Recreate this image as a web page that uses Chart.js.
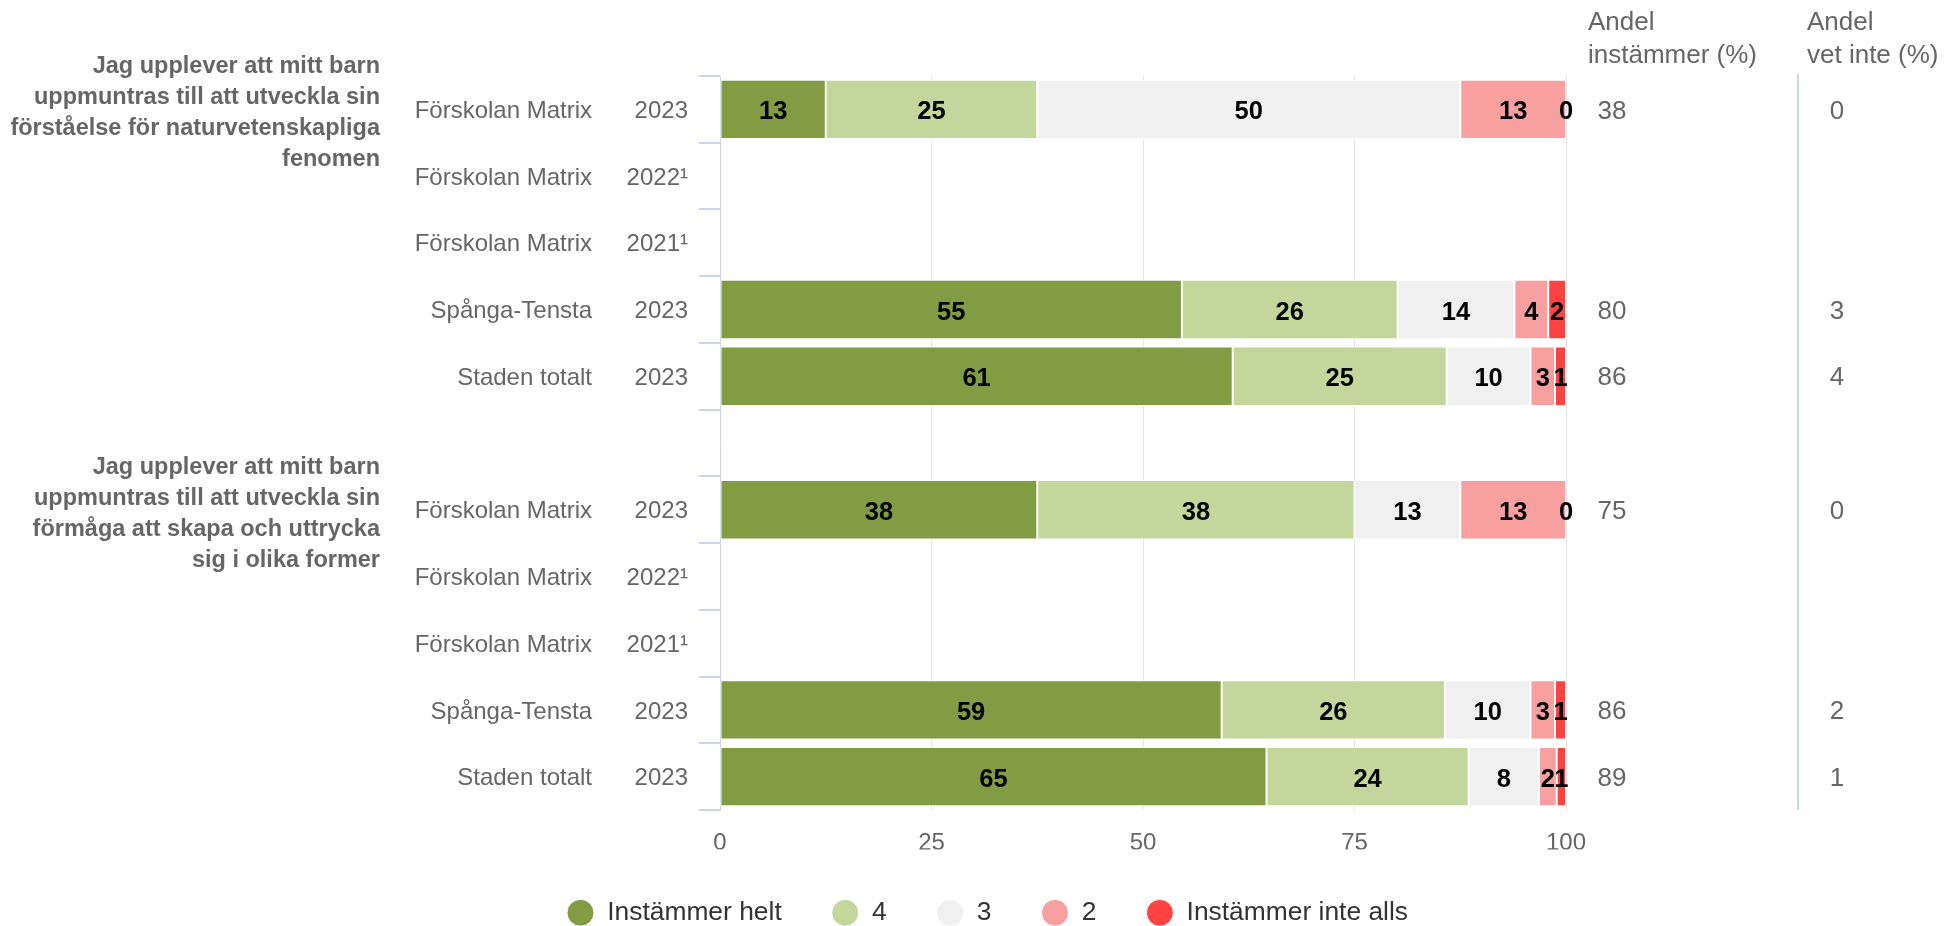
<!DOCTYPE html>
<html>
<head>
<meta charset="utf-8">
<script src="https://cdn.jsdelivr.net/npm/chart.js@4.4.1/dist/chart.umd.min.js"></script>
<style>
  html, body { margin: 0; padding: 0; background: #ffffff; }
  canvas { display: block; }
</style>
</head>
<body>
<canvas id="c" width="1944" height="926"></canvas>
<script>
// ---- Data ----
const names = ['Förskolan Matrix', 'Förskolan Matrix', 'Förskolan Matrix', 'Spånga-Tensta', 'Staden totalt', '',
               'Förskolan Matrix', 'Förskolan Matrix', 'Förskolan Matrix', 'Spånga-Tensta', 'Staden totalt'];
const years = ['2023', '2022¹', '2021¹', '2023', '2023', '',
               '2023', '2022¹', '2021¹', '2023', '2023'];

const groupTitles = [
  ['Jag upplever att mitt barn', 'uppmuntras till att utveckla sin', 'förståelse för naturvetenskapliga', 'fenomen'],
  ['Jag upplever att mitt barn', 'uppmuntras till att utveckla sin', 'förmåga att skapa och uttrycka', 'sig i olika former']
];
const groupFirstRow = [0, 6];

const seriesNames = ['Instämmer helt', '4', '3', '2', 'Instämmer inte alls'];
const seriesColors = ['#819c43', '#c3d69b', '#f0f0f0', '#f8a0a0', '#ff4343'];

const instammerHelt = [12.5, null, null, 54.6, 60.6, null, 37.5, null, null, 59.3, 64.6];
const varde4        = [25,   null, null, 25.5, 25.3, null, 37.5, null, null, 26.4, 23.9];
const varde3        = [50,   null, null, 13.8,  9.9, null, 12.5, null, null, 10.1,  8.3];
const varde2        = [12.5, null, null,  4.0,  2.9, null, 12.5, null, null,  2.9,  2.1];
const instammerInte = [0,    null, null,  2.1,  1.3, null, 0,    null, null,  1.3,  1.1];

const andelInstammer = [38, null, null, 80, 86, null, 75, null, null, 86, 89];
const andelVetInte   = [0,  null, null, 3,  4,  null, 0,  null, null, 2,  1];

const xTicks = [0, 25, 50, 75, 100];
const headerInstammer = ['Andel', 'instämmer (%)'];
const headerVetInte = ['Andel', 'vet inte (%)'];

// ---- Chart ----
const FONT = "'Liberation Sans', Arial, Helvetica, sans-serif";
Chart.defaults.font.family = FONT;

const seriesData = [instammerHelt, varde4, varde3, varde2, instammerInte];
const datasets = seriesData.map((d, i) => ({
  label: seriesNames[i],
  data: d,
  backgroundColor: seriesColors[i],
  borderColor: '#ffffff',
  borderWidth: 1,
  borderSkipped: false,
  barPercentage: 0.89,
  categoryPercentage: 1.0
}));

const labelsPlugin = {
  id: 'dataLabels',
  afterDatasetsDraw(chart) {
    const ctx = chart.ctx;
    ctx.save();
    ctx.font = 'bold 25.5px ' + FONT;
    ctx.fillStyle = '#000000';
    ctx.textAlign = 'center';
    ctx.textBaseline = 'middle';
    chart.data.datasets.forEach((ds, i) => {
      const meta = chart.getDatasetMeta(i);
      meta.data.forEach((el, j) => {
        const v = ds.data[j];
        if (v === null || v === undefined) return;
        const p = el.getProps(['x', 'y', 'base'], true);
        ctx.fillText(String(Math.round(v)), (p.x + p.base) / 2, p.y + 3);
      });
    });
    ctx.restore();
  }
};

const sidePlugin = {
  id: 'sideText',
  afterDraw(chart) {
    const ctx = chart.ctx;
    const y = chart.scales.y;
    const area = chart.chartArea;
    ctx.save();
    ctx.textBaseline = 'middle';

    // category names and years
    ctx.font = '24px ' + FONT;
    ctx.fillStyle = '#666666';
    ctx.textAlign = 'right';
    names.forEach((n, i) => {
      const py = y.getPixelForValue(i) + 2;
      if (n) ctx.fillText(n, 592, py);
      if (years[i]) ctx.fillText(years[i], 688, py);
    });

    // group titles
    ctx.font = 'bold 23.5px ' + FONT;
    ctx.fillStyle = '#666666';
    ctx.textAlign = 'right';
    groupTitles.forEach((lines, g) => {
      const cy = y.getPixelForValue(groupFirstRow[g]) + 4;
      const lh = 31;
      const start = cy - (lines.length - 1) * lh / 2;
      lines.forEach((t, k) => ctx.fillText(t, 380, start + k * lh));
    });

    // right-side headers
    ctx.font = '26px ' + FONT;
    ctx.fillStyle = '#666666';
    ctx.textAlign = 'left';
    headerInstammer.forEach((t, k) => ctx.fillText(t, 1588, 23 + k * 32.5));
    headerVetInte.forEach((t, k) => ctx.fillText(t, 1807, 23 + k * 32.5));

    // right-side values
    ctx.textAlign = 'center';
    andelInstammer.forEach((v, i) => {
      if (v === null) return;
      ctx.fillText(String(v), 1612, y.getPixelForValue(i) + 2);
    });
    andelVetInte.forEach((v, i) => {
      if (v === null) return;
      ctx.fillText(String(v), 1837, y.getPixelForValue(i) + 2);
    });

    // separator line
    ctx.strokeStyle = '#ccd6eb';
    ctx.lineWidth = 2;
    ctx.beginPath();
    ctx.moveTo(1798, 74);
    ctx.lineTo(1798, area.bottom);
    ctx.stroke();
    ctx.restore();
  }
};

new Chart(document.getElementById('c'), {
  type: 'bar',
  data: { labels: names.map((n, i) => n + ' ' + years[i]), datasets },
  options: {
    indexAxis: 'y',
    responsive: false,
    animation: false,
    devicePixelRatio: 1,
    layout: { padding: { left: 409, right: 378, top: 76, bottom: -10 } },
    scales: {
      x: {
        stacked: true,
        min: 0,
        max: 100,
        afterBuildTicks: (s) => { s.ticks = xTicks.map(v => ({ value: v })); },
        afterFit: (s) => { s.height = 39.6; },
        grid: { color: '#e6e6e6', lineWidth: 1, drawTicks: false },
        border: { display: false },
        ticks: { color: '#666666', font: { size: 24 }, padding: 19 }
      },
      y: {
        stacked: true,
        afterFit: (s) => { s.width = 311; },
        grid: { drawOnChartArea: false, drawTicks: true, tickLength: 21, color: '#ccd6eb', lineWidth: 2 },
        border: { display: true, color: '#ccd6eb', width: 1 },
        ticks: { display: false }
      }
    },
    plugins: {
      tooltip: { enabled: false },
      legend: {
        position: 'bottom',
        labels: {
          usePointStyle: true,
          pointStyle: 'circle',
          boxHeight: 19,
          pointStyleWidth: 27,
          padding: 50,
          color: '#333333',
          font: { size: 26.4 }
        }
      }
    }
  },
  plugins: [labelsPlugin, sidePlugin]
});
</script>
</body>
</html>
